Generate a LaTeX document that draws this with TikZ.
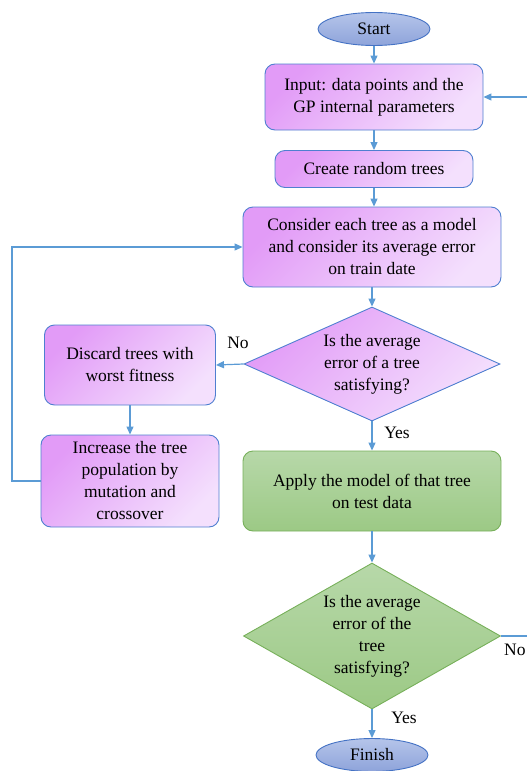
\documentclass[tikz,border=0pt]{standalone}
\usepackage{fontspec}
\setmainfont{Liberation Serif}
\usetikzlibrary{shapes.geometric,arrows.meta}
\definecolor{lineblue}{HTML}{5B9BD5}
\definecolor{boxedge}{HTML}{4F7FD0}
\definecolor{violetA}{HTML}{E29BF7}
\definecolor{violetB}{HTML}{F4E0FD}
\definecolor{greenA}{HTML}{B7D8A9}
\definecolor{greenB}{HTML}{9CC985}
\definecolor{greenedge}{HTML}{77B05A}
\definecolor{ovalA}{HTML}{B5C4EA}
\definecolor{ovalB}{HTML}{8EA4DA}
\definecolor{ovaledge}{HTML}{4472C4}
\tikzset{
  flowline/.style={draw=lineblue, line width=1.2pt, -{Triangle[width=7pt,length=8pt]}},
  txt/.style={font=\fontsize{17.5}{22}\selectfont, align=center, inner sep=0pt},
  procbox/.style={txt, rectangle, rounded corners=10pt, draw=boxedge, line width=0.9pt,
    top color=violetA, bottom color=violetB, shading angle=45},
  testbox/.style={txt, diamond, aspect=2.2, draw=boxedge, line width=0.9pt,
    top color=violetA, bottom color=violetB, shading angle=45},
  applybox/.style={txt, rectangle, rounded corners=10pt, draw=greenedge, line width=0.9pt,
    top color=greenA, bottom color=greenB},
  checkbox/.style={txt, diamond, aspect=1.76, draw=greenedge, line width=0.9pt,
    top color=greenA, bottom color=greenB},
  termoval/.style={txt, ellipse, draw=ovaledge, line width=0.9pt,
    top color=ovalA, bottom color=ovalB, minimum width=112pt, minimum height=33pt},
  lbl/.style={font=\fontsize{17.5}{22}\selectfont, inner sep=0pt}
}
\begin{document}
\begin{tikzpicture}[x=1pt,y=-1pt]
\useasboundingbox (0,0) rectangle (527,771);
\node[termoval] (start) at (374,29) {Start};
\node[procbox, minimum width=218pt, minimum height=66pt] (input) at (374,97)
  {Input: data points and the\\GP internal parameters};
\node[procbox, minimum width=198pt, minimum height=37pt] (create) at (374,169)
  {Create random trees};
\node[procbox, minimum width=258pt, minimum height=80pt] (consider) at (372,247)
  {Consider each tree as a model\\and consider its average error\\on train date};
\node[testbox, minimum width=256pt, minimum height=114pt] (test) at (372,364)
  {Is the average\\error of a tree\\satisfying?};
\node[procbox, minimum width=171pt, minimum height=80pt] (discard) at (130,365)
  {Discard trees with\\worst fitness};
\node[procbox, minimum width=178pt, minimum height=92pt] (increase) at (130,481)
  {Increase the tree\\population by\\mutation and\\crossover};
\node[applybox, minimum width=258pt, minimum height=80pt] (apply) at (372,491)
  {Apply the model of that tree\\on test data};
\node[checkbox, minimum width=257pt, minimum height=146pt] (check) at (372,636)
  {Is the average\\error of the\\tree\\satisfying?};
\node[termoval] (finish) at (372,755) {Finish};
\node[lbl] (no1) at (238,343) {No};
\node[lbl] (yes1) at (397,433) {Yes};
\node[lbl, anchor=west] (no2) at (504,650) {No};
\node[lbl] (yes2) at (404,718) {Yes};
\coordinate (loopA) at (12,481);
\coordinate (loopB) at (12,247);
\coordinate (backA) at (540,636);
\coordinate (backB) at (540,97);
\draw[flowline] (start) -- (input);
\draw[flowline] (input) -- (create);
\draw[flowline] (create.south) -- (create.south |- consider.north);
\draw[flowline] (consider) -- (test);
\draw[flowline] (test.west) -- (discard.east);
\draw[flowline] (discard) -- (increase);
\draw[flowline] (increase.west) -- (loopA) -- (loopB) -- (consider.west);
\draw[flowline] (test.south) -- (apply.north);
\draw[flowline] (apply) -- (check);
\draw[flowline] (check.south) -- (finish.north);
\draw[flowline] (check.east) -- (backA) -- (backB) -- (input.east);
\end{tikzpicture}
\end{document}
